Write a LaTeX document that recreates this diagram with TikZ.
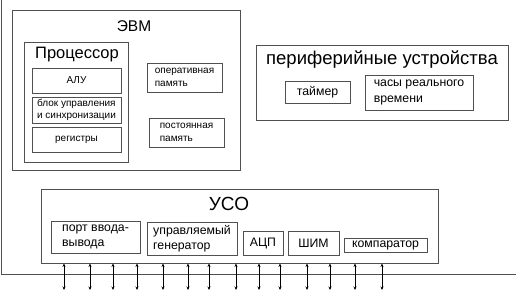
\documentclass[tikz,border=0pt]{standalone}
\usepackage{fontspec}
\setmainfont{Liberation Sans}
\usetikzlibrary{arrows.meta}
\definecolor{LineGrey}{RGB}{80,80,80}
\tikzset{
  blk/.style={draw=LineGrey, line width=0.9pt, inner sep=0pt, align=left},
  small/.style={blk, font=\fontsize{10}{12.5}\selectfont},
  mid/.style={blk, font=\fontsize{12.3}{15.5}\selectfont},
  ttl/.style={inner sep=0pt, font=\fontsize{15.5}{18}\selectfont},
  bus/.style={LineGrey, line width=0.9pt},
  io/.style={{Stealth[length=3.5pt,width=3pt]}-{Stealth[length=3.5pt,width=3pt]}, black, line width=0.7pt},
}
\begin{document}
\begin{tikzpicture}[x=1pt, y=-1pt]
  \useasboundingbox (0,0) rectangle (516,290);
  % ЭВМ
  \node[blk, minimum width=228, minimum height=160] (evm) at (126,90) {};
  \node[ttl] (evmt) at (134,26) {ЭВМ};
  \node[blk, minimum width=104, minimum height=120] (cpu) at (76,102) {};
  \node[ttl, font=\fontsize{16.5}{18}\selectfont] (cput) at (77,55) {Процессор};
  \node[small, minimum width=89, minimum height=25] (alu) at (76.5,80.5) {АЛУ};
  \node[small, minimum width=89, minimum height=26] (bu) at (76.5,110) {блок управления\\и синхронизации};
  \node[small, minimum width=89, minimum height=25] (reg) at (76.5,139.5) {регистры};
  \node[small, minimum width=75, minimum height=29] (ram) at (184.5,77.5) {оперативная\\память};
  \node[small, minimum width=75, minimum height=29] (rom) at (186.5,132.5) {постоянная\\память};
  % периферия
  \node[blk, minimum width=252, minimum height=75] (per) at (382,82.5) {};
  \node[ttl, font=\fontsize{18.5}{22}\selectfont] (pert) at (382,60) {периферийные устройства};
  \node[mid, minimum width=65, minimum height=22] (tmr) at (317.5,92) {таймер};
  \node[mid, minimum width=108, minimum height=35] (clk) at (419,92.5) {часы реального\\времени};
  % УСО
  \node[blk, minimum width=397, minimum height=74] (uso) at (239.5,226) {};
  \node[ttl, font=\fontsize{19}{24}\selectfont] (usot) at (229,204) {УСО};
  \node[mid, minimum width=89, minimum height=32] (port) at (95.5,237) {порт ввода-\\вывода};
  \node[mid, minimum width=90, minimum height=33] (gen) at (192,238.5) {управляемый\\генератор};
  \node[mid, minimum width=40, minimum height=24] (adc) at (263,243) {АЦП};
  \node[mid, minimum width=51, minimum height=24] (pwm) at (313.5,243) {ШИМ};
  \node[mid, minimum width=83, minimum height=14] (cmp) at (385.5,245) {компаратор};
  % шина
  \draw[bus] (1.5,0) -- (1.5,274) -- (516,274);
  \foreach \x [count=\k] in {64,90,113,137,163,188,209,236,259,280,307,330,355,382}{
    \coordinate (b\k) at (\x,290);
    \draw[io] (uso.south -| b\k) -- (b\k);
  }
\end{tikzpicture}
\end{document}
